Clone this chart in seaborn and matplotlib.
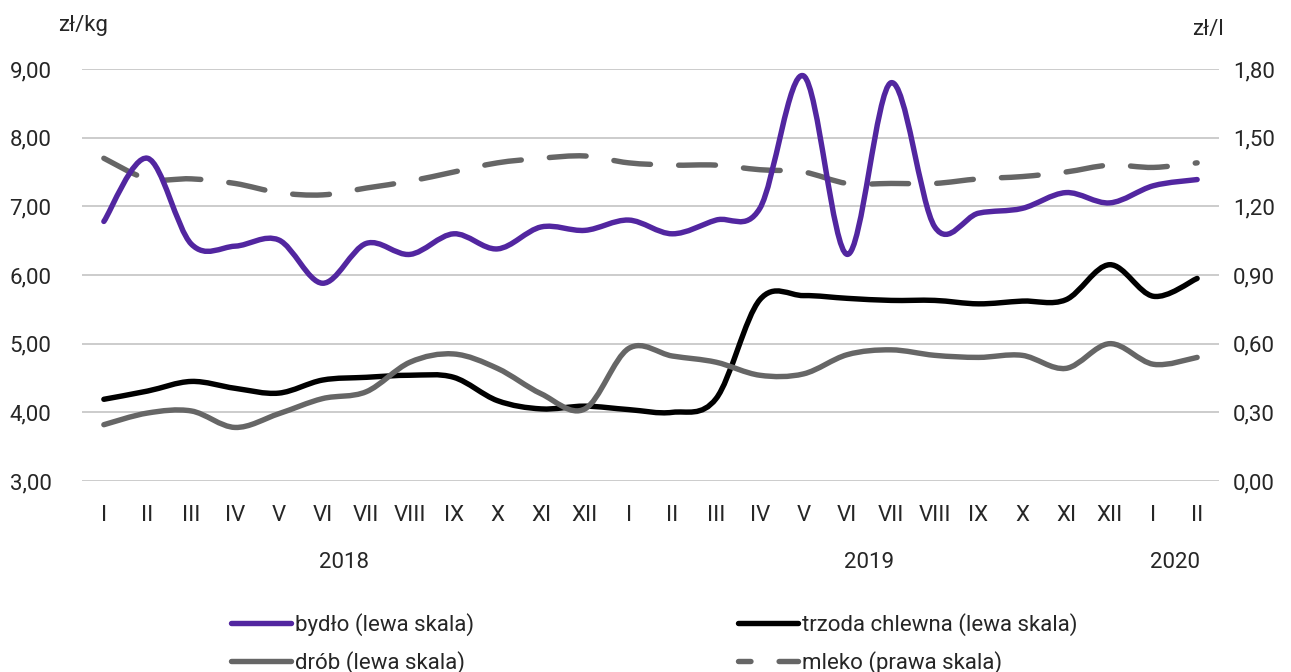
import numpy as np
import pandas as pd
import matplotlib
matplotlib.use('Agg')
import matplotlib.pyplot as plt
import seaborn as sns
from matplotlib import font_manager
from matplotlib.path import Path
from matplotlib.patches import PathPatch
from matplotlib.lines import Line2D
import matplotlib.transforms as mtransforms

# months I 2018 .. II 2020
months = ['I', 'II', 'III', 'IV', 'V', 'VI', 'VII', 'VIII', 'IX', 'X', 'XI', 'XII',
          'I', 'II', 'III', 'IV', 'V', 'VI', 'VII', 'VIII', 'IX', 'X', 'XI', 'XII',
          'I', 'II']
years = ['2018', '2019', '2020']
year_pos = [5.5, 17.5, 24.5]

bydlo = [6.78, 7.70, 6.45, 6.42, 6.51, 5.88, 6.46, 6.30, 6.60, 6.38, 6.70, 6.65,
         6.80, 6.60, 6.80, 6.97, 8.90, 6.30, 8.80, 6.70, 6.90, 6.97, 7.20, 7.05,
         7.30, 7.39]
trzoda = [4.19, 4.31, 4.45, 4.35, 4.28, 4.47, 4.51, 4.54, 4.51, 4.17, 4.05, 4.09,
          4.04, 4.00, 4.20, 5.64, 5.70, 5.66, 5.63, 5.63, 5.58, 5.62, 5.64, 6.15,
          5.69, 5.95]
drob = [3.82, 3.99, 4.02, 3.78, 3.98, 4.20, 4.30, 4.73, 4.85, 4.64, 4.27, 4.05,
        4.93, 4.82, 4.73, 4.54, 4.56, 4.84, 4.91, 4.83, 4.80, 4.83, 4.64, 5.00,
        4.70, 4.80]
mleko = [1.41, 1.32, 1.32, 1.30, 1.26, 1.25, 1.28, 1.31, 1.35, 1.39, 1.41, 1.42,
         1.39, 1.38, 1.38, 1.36, 1.35, 1.30, 1.30, 1.30, 1.32, 1.33, 1.35, 1.38,
         1.37, 1.39]

labels = ['bydło (lewa skala)', 'trzoda chlewna (lewa skala)',
          'drób (lewa skala)', 'mleko (prawa skala)']

purple = '#5226a0'
grey = '#666666'

sns.set_theme(style='white')
installed = {f.name for f in font_manager.fontManager.ttflist}
fam = [f for f in ['Roboto', 'Noto Sans', 'DejaVu Sans'] if f in installed]
plt.rcParams['font.family'] = fam + ['DejaVu Sans']
fs = 16

W, H = 1291, 672
fig = plt.figure(figsize=(W / 100, H / 100), dpi=100)
ax = fig.add_axes([82 / W, 1 - 481 / H, (1219 - 82) / W, (481 - 69) / H])
ax2 = ax.twinx()

x = np.arange(len(months))
df = pd.DataFrame({'x': x, 'bydlo': bydlo, 'trzoda': trzoda, 'drob': drob, 'mleko': mleko})


def smooth_path(xs, ys):
    # Catmull-Rom style bezier, like Excel's smoothed line
    xs = np.asarray(xs, float)
    ys = np.asarray(ys, float)
    n = len(xs)
    verts = [(xs[0], ys[0])]
    codes = [Path.MOVETO]
    for i in range(n - 1):
        p0 = i - 1 if i > 0 else i
        p3 = i + 2 if i + 2 < n else i + 1
        c1 = (xs[i] + (xs[i + 1] - xs[p0]) / 6, ys[i] + (ys[i + 1] - ys[p0]) / 6)
        c2 = (xs[i + 1] - (xs[p3] - xs[i]) / 6, ys[i + 1] - (ys[p3] - ys[i]) / 6)
        verts += [c1, c2, (xs[i + 1], ys[i + 1])]
        codes += [Path.CURVE4] * 3
    return Path(verts, codes)


lw = 3.9
dash = (0, (6.8, 5.2))
series = [(ax, 'bydlo', purple, '-'), (ax, 'trzoda', 'black', '-'),
          (ax, 'drob', grey, '-'), (ax2, 'mleko', grey, dash)]
for a, col, c, ls in series:
    sns.lineplot(data=df, x='x', y=col, ax=a, color=c, legend=False)
    for ln in a.lines:
        ln.set_visible(False)
    patch = PathPatch(smooth_path(df['x'], df[col]), facecolor='none', edgecolor=c,
                      linewidth=lw, linestyle=ls, capstyle='round', joinstyle='round',
                      zorder=3)
    a.add_patch(patch)

ax.set_xlim(-0.5, len(months) - 0.5)
ax.set_ylim(3, 9)
ax2.set_ylim(0, 1.8)
ax.set_yticks(np.arange(3, 9.01, 1))
ax2.set_yticks(np.arange(0, 1.801, 0.3))
ax.set_yticklabels([f'{v:.2f}'.replace('.', ',') for v in np.arange(3, 9.01, 1)])
ax2.set_yticklabels([f'{v:.2f}'.replace('.', ',') for v in np.arange(0, 1.801, 0.3)])
ax.set_xticks(x)
ax.set_xticklabels(months)
ax.set_xlabel('')
ax.set_ylabel('')
ax2.set_ylabel('')
ax.yaxis.grid(True, color='#c8c8c8', linewidth=1.3)
ax.xaxis.grid(False)
for a in (ax, ax2):
    for s in a.spines.values():
        s.set_visible(False)
ax.tick_params(axis='y', length=0, pad=22, labelsize=fs)
ax2.tick_params(axis='y', length=0, pad=10, labelsize=fs)
ax.tick_params(axis='x', length=0, pad=17, labelsize=fs)
ax.set_zorder(ax2.get_zorder() + 1)
ax.patch.set_visible(False)

trans = mtransforms.blended_transform_factory(ax.transData, fig.transFigure)
for yl, xp in zip(years, year_pos):
    ax.text(xp, 1 - 563 / H, yl, transform=trans, ha='center', va='center', fontsize=fs)

fig.text(83 / W, 1 - 25 / H, 'zł/kg', ha='center', va='center', fontsize=fs)
fig.text(1208 / W, 1 - 30 / H, 'zł/l', ha='center', va='center', fontsize=fs)

h_b = Line2D([], [], color=purple, lw=lw, solid_capstyle='round')
h_t = Line2D([], [], color='black', lw=lw, solid_capstyle='round')
h_d = Line2D([], [], color=grey, lw=lw, solid_capstyle='round')
h_m = Line2D([], [], color=grey, lw=lw, linestyle=(4.5, (6.8, 5.2)), dash_capstyle='round')

common = dict(frameon=False, fontsize=fs, handlelength=2.7, handletextpad=0.2,
              labelspacing=0.66, borderpad=0, borderaxespad=0)
leg1 = fig.legend([h_b, h_d], [labels[0], labels[2]], loc='upper left',
                  bbox_to_anchor=(231 / W, 1 - 613 / H), **common)
leg2 = fig.legend([h_t, h_m], [labels[1], labels[3]], loc='upper left',
                  bbox_to_anchor=(738 / W, 1 - 613 / H), **common)

fig.savefig('out.png', dpi=100)
